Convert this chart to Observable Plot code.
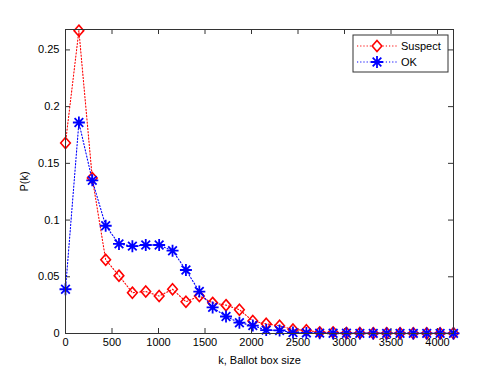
<!DOCTYPE html>
<html><head><meta charset="utf-8">
<script src="https://cdn.jsdelivr.net/npm/d3@7"></script>
<script src="https://cdn.jsdelivr.net/npm/@observablehq/plot@0.6"></script>
<style>body{margin:0;background:#fff}svg{display:block}</style>
</head><body><div id="chart"></div>
<script>
const kValues = [0,144,288,432,575,719,863,1007,1151,1295,1439,1582,1726,1870,2014,2158,2302,2446,2590,2733,2877,3021,3165,3309,3453,3597,3740,3884,4028,4172];
const suspect = [0.168,0.267,0.137,0.065,0.051,0.036,0.037,0.033,0.039,0.028,0.033,0.027,0.025,0.021,0.011,0.0085,0.0068,0.0035,0.0028,0.001,0.001,0.0005,0.0005,0.0003,0.0003,0.0003,0.0002,0.0002,0.0002,0.0002];
const ok = [0.039,0.186,0.135,0.095,0.079,0.077,0.078,0.078,0.073,0.056,0.037,0.023,0.015,0.0095,0.007,0.003,0.0027,0.0008,0.0005,0.0003,0.0002,0.0002,0.0001,0.0001,0.0001,0.0001,0.0001,0.0001,0.0001,0.0001];
const seriesNames = ["Suspect","OK"];
const xTicks = [0,500,1000,1500,2000,2500,3000,3500,4000];
const yTicks = [0,0.05,0.1,0.15,0.2,0.25];

const dS = kValues.map((k,i)=>({k, p: suspect[i]}));
const dO = kValues.map((k,i)=>({k, p: ok[i]}));

const diamond = {draw(ctx, size){const r=Math.sqrt(size/Math.PI); ctx.moveTo(0,-r*1.2); ctx.lineTo(r*1.05,0); ctx.lineTo(0,r*1.2); ctx.lineTo(-r*1.05,0); ctx.closePath();}};
const star = {draw(ctx, size){const r=Math.sqrt(size/Math.PI); const d=r*0.72;
  ctx.moveTo(-r,0);ctx.lineTo(r,0);ctx.moveTo(0,-r);ctx.lineTo(0,r);
  ctx.moveTo(-d,-d);ctx.lineTo(d,d);ctx.moveTo(-d,d);ctx.lineTo(d,-d);}};

const W=500,H=375,mL=65,mR=47,mT=29,mB=42;
const pw=W-mL-mR, ph=H-mT-mB;
const axisColor="#333";

const plot = Plot.plot({
  width: W, height: H,
  marginLeft: mL, marginRight: mR, marginTop: mT, marginBottom: mB,
  style: {fontFamily: "'Liberation Sans', Arial, sans-serif", fontSize: "11px", background: "#fff", color: "#000"},
  x: {domain: [0, 4172]},
  y: {domain: [0, 0.268]},
  marks: [
    Plot.axisX({ticks: xTicks, tickSize: 0, tickPadding: 5, tickFormat: d=>String(d), label: "k, Ballot box size", labelAnchor: "center", labelOffset: 30, labelArrow: "none", fontSize: 11}),
    Plot.axisY({ticks: yTicks, tickSize: 0, tickPadding: 6, tickFormat: d=>String(d), label: "P(k)", labelAnchor: "center", labelOffset: 45, labelArrow: "none", fontSize: 11}),
    Plot.tickX(xTicks, {x: d=>d, insetTop: ph-5, stroke: axisColor}),
    Plot.tickX(xTicks, {x: d=>d, insetBottom: ph-5, stroke: axisColor}),
    Plot.tickY(yTicks, {y: d=>d, insetRight: pw-5, stroke: axisColor}),
    Plot.tickY(yTicks, {y: d=>d, insetLeft: pw-5, stroke: axisColor}),
    Plot.line(dS, {x: "k", y: "p", stroke: "#ff0000", strokeWidth: 1.1, strokeDasharray: "1.2,2"}),
    Plot.dot(dS, {x: "k", y: "p", symbol: diamond, r: 4.6, stroke: "#ff0000", strokeWidth: 1.6, fill: "none"}),
    Plot.line(dO, {x: "k", y: "p", stroke: "#0000ff", strokeWidth: 1.1, strokeDasharray: "1.2,2"}),
    Plot.dot(dO, {x: "k", y: "p", symbol: star, r: 6, stroke: "#0000ff", strokeWidth: 1.8, fill: "none"}),
    Plot.frame({stroke: axisColor})
  ]
});

// legend inside plot area (top-right)
const svg = d3.select(plot);
const lg = svg.append("g").attr("transform", "translate(353,35)");
lg.append("rect").attr("width", 95).attr("height", 37).attr("fill", "#fff").attr("stroke", axisColor);
const colors = ["#ff0000","#0000ff"];
seriesNames.forEach((name,i)=>{
  const y = 11 + i*16;
  lg.append("line").attr("x1",4).attr("x2",45).attr("y1",y).attr("y2",y).attr("stroke",colors[i]).attr("stroke-width",1.1).attr("stroke-dasharray","1.2,2");
  const p = d3.path();
  (i===0?diamond:star).draw(p, (i===0?4.6:6)**2*Math.PI);
  lg.append("path").attr("d", p.toString()).attr("transform",`translate(24,${y})`).attr("fill","#fff").attr("stroke",colors[i]).attr("stroke-width", i===0?1.6:1.8);
  lg.append("text").attr("x",48).attr("y",y).attr("dy","0.35em").attr("text-anchor","start").attr("font-size",11).attr("fill","#000").text(name);
});
document.getElementById("chart").appendChild(plot);
</script>
</body></html>
